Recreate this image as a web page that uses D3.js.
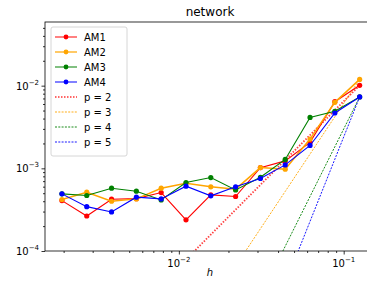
<!DOCTYPE html>
<html lang="en">
<head>
<meta charset="utf-8">
<title>network</title>
<script src="https://cdn.jsdelivr.net/npm/d3@7"></script>
<style>
body { margin: 0; background: #ffffff; }
text { font-family: "DejaVu Sans", sans-serif; }
</style>
</head>
<body>
<div id="container"></div>
<script>
// step sizes h (halving by sqrt(2) each step)
var hValues = [0.001953, 0.002762, 0.003906, 0.005524, 0.007813, 0.011049, 0.015625, 0.022097, 0.03125, 0.044194, 0.0625, 0.088388, 0.125];

var am1 = [4.07e-4, 2.65e-4, 4.23e-4, 4.3e-4, 5.09e-4, 2.38e-4, 4.78e-4, 4.56e-4, 1.02e-3, 1.23e-3, 2.06e-3, 6.4e-3, 1.01e-2];
var am2 = [4.19e-4, 5.14e-4, 4.0e-4, 4.27e-4, 5.75e-4, 6.6e-4, 5.97e-4, 5.6e-4, 1.02e-3, 9.77e-4, 2.26e-3, 6.28e-3, 1.19e-2];
var am3 = [4.91e-4, 4.69e-4, 5.75e-4, 5.29e-4, 4.15e-4, 6.73e-4, 7.74e-4, 5.48e-4, 7.8e-4, 1.28e-3, 4.13e-3, 4.89e-3, 7.3e-3];
var am4 = [4.91e-4, 3.44e-4, 2.97e-4, 4.48e-4, 4.27e-4, 6.08e-4, 4.65e-4, 5.97e-4, 7.53e-4, 1.10e-3, 1.89e-3, 4.67e-3, 7.3e-3];

var seriesNames = ["AM1", "AM2", "AM3", "AM4"];
var orders = [2, 3, 4, 5];
var colors = ["red", "orange", "green", "blue"];
var yTickValues = [1e-4, 1e-3, 1e-2];
var xTickValues = [1e-2, 1e-1];

var w = 367, h = 287;
var mLeft = 45, mRight = 375, mTop = 22, mBottom = 251;

var svg = d3.select("#container").append("svg")
    .attr("width", w).attr("height", h)
    .style("background-color", "#ffffff");

var x = d3.scaleLog().domain([10 ** -2.812, 10 ** -0.81]).range([mLeft, mRight]);
var y = d3.scaleLog().domain([1e-4, 10 ** -1.23]).range([mBottom, mTop]);

svg.append("defs").append("clipPath").attr("id", "clip")
  .append("rect").attr("x", mLeft).attr("y", mTop)
  .attr("width", mRight - mLeft).attr("height", mBottom - mTop);

var plot = svg.append("g").attr("clip-path", "url(#clip)");

// reference slopes anchored at the last point of each method
var allSeries = [am1, am2, am3, am4];
orders.forEach(function(p, i) {
  var s = allSeries[i];
  var hl = hValues[hValues.length - 1], el = s[s.length - 1];
  var refData = hValues.map(function(hv) { return [hv, el * Math.pow(hv / hl, p)]; });
  plot.append("path")
    .datum(refData)
    .attr("fill", "none")
    .attr("stroke", colors[i])
    .attr("stroke-width", i == 0 ? 1.8 : 1)
    .attr("stroke-opacity", i == 0 ? 0.75 : 0.9)
    .attr("stroke-dasharray", i == 0 ? "1.5,1.5" : "2,1.3")
    .attr("d", d3.line().x(function(d) { return x(d[0]); }).y(function(d) { return y(d[1]); }));
});

allSeries.forEach(function(s, i) {
  var pts = s.map(function(v, k) { return [hValues[k], v]; });
  plot.append("path")
    .datum(pts)
    .attr("fill", "none")
    .attr("stroke", colors[i])
    .attr("stroke-width", i == 1 ? 1.5 : 1.1)
    .attr("d", d3.line().x(function(d) { return x(d[0]); }).y(function(d) { return y(d[1]); }));
  plot.selectAll(null).data(pts).enter().append("circle")
    .attr("cx", function(d) { return x(d[0]); })
    .attr("cy", function(d) { return y(d[1]); })
    .attr("r", 2.6)
    .attr("fill", colors[i]);
});

// axes
var xAxis = d3.axisBottom(x).tickValues(xTickValues).tickSize(3.5).tickFormat("");
var xMinor = d3.axisBottom(x).tickValues(x.ticks().filter(function(t) { return xTickValues.indexOf(t) < 0; })).tickSize(2).tickFormat("");
var yAxis = d3.axisLeft(y).tickValues(yTickValues).tickSize(3.5).tickFormat("");
var yMinor = d3.axisLeft(y).tickValues(y.ticks().filter(function(t) { return yTickValues.indexOf(t) < 0; })).tickSize(2).tickFormat("");

[xAxis, xMinor].forEach(function(a) {
  var g = svg.append("g").attr("transform", "translate(0," + mBottom + ")").call(a);
  g.select(".domain").remove();
  g.selectAll("line").attr("stroke", "#000").attr("stroke-width", 0.8);
});
[yAxis, yMinor].forEach(function(a) {
  var g = svg.append("g").attr("transform", "translate(" + mLeft + ",0)").call(a);
  g.select(".domain").remove();
  g.selectAll("line").attr("stroke", "#000").attr("stroke-width", 0.8);
});

// spines
svg.append("rect").attr("x", mLeft).attr("y", mTop)
  .attr("width", mRight - mLeft).attr("height", mBottom - mTop)
  .attr("fill", "none").attr("stroke", "#000").attr("stroke-width", 0.8);

// tick labels as 10^n
function powLabel(g, v) {
  var e = Math.round(Math.log10(v));
  g.append("tspan").text("10");
  g.append("tspan").attr("dy", -5).attr("font-size", 7).text("\u2212" + Math.abs(e));
}
xTickValues.forEach(function(v) {
  var t = svg.append("text").attr("x", x(v)).attr("y", mBottom + 16)
    .attr("text-anchor", "middle").attr("font-size", 10).attr("fill", "#000");
  powLabel(t, v);
});
yTickValues.forEach(function(v) {
  var t = svg.append("text").attr("x", mLeft - 6).attr("y", y(v) + 4)
    .attr("text-anchor", "end").attr("font-size", 10).attr("fill", "#000");
  powLabel(t, v);
});

svg.append("text").attr("x", (mLeft + mRight) / 2).attr("y", 16)
  .attr("text-anchor", "middle").attr("font-size", 12).text("network");
svg.append("text").attr("x", (mLeft + mRight) / 2).attr("y", 276)
  .attr("text-anchor", "middle").attr("font-size", 10).attr("font-style", "italic").text("h");

// legend
var leg = svg.append("g");
leg.append("rect").attr("x", 51).attr("y", 27).attr("width", 76).attr("height", 129)
  .attr("rx", 2).attr("fill", "#fff").attr("fill-opacity", 0.8)
  .attr("stroke", "#ccc").attr("stroke-width", 0.8);
var labels = seriesNames.concat(orders.map(function(p) { return "p = " + p; }));
labels.forEach(function(lab, k) {
  var ly = 37 + k * 15;
  var ci = k % 4;
  var isRef = k >= 4;
  leg.append("line").attr("x1", 55).attr("x2", 77).attr("y1", ly).attr("y2", ly)
    .attr("stroke", colors[ci])
    .attr("stroke-width", isRef ? (ci == 0 ? 1.8 : 1) : (ci == 1 ? 2 : 1.1))
    .attr("stroke-opacity", (isRef && ci == 0) || (!isRef && ci == 1) ? 0.6 : 0.9)
    .attr("stroke-dasharray", isRef ? (ci == 0 ? "1.5,1.5" : "2,1.3") : null);
  if (!isRef) {
    leg.append("circle").attr("cx", 66).attr("cy", ly).attr("r", 2.4).attr("fill", colors[ci]);
  }
  leg.append("text").attr("x", 84).attr("y", ly + 4).attr("font-size", 10).text(lab);
});
</script>
</body>
</html>
